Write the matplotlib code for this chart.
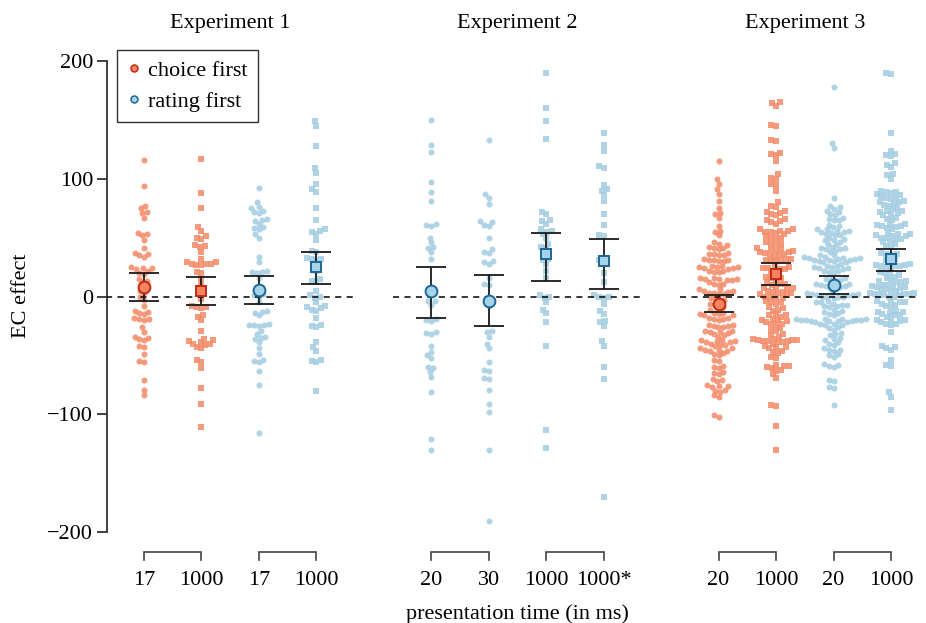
import numpy as np
import matplotlib
matplotlib.use('Agg')
import matplotlib.pyplot as plt
from matplotlib.lines import Line2D

plt.rcParams['font.family'] = ['Liberation Serif', 'DejaVu Serif']

# ---------------- data ----------------
experiments = ['Experiment 1', 'Experiment 2', 'Experiment 3']
tick_labels = ['17', '1000', '17', '1000', '20', '30', '1000', '1000*', '20', '1000', '20', '1000']
conditions = ['choice', 'choice', 'rating', 'rating', 'rating', 'rating', 'rating', 'rating',
              'choice', 'choice', 'rating', 'rating']
shapes = ['o', 's', 'o', 's', 'o', 'o', 's', 's', 'o', 's', 'o', 's']

e1_choice_17 = [116, 94, 77, 75, 72, 71, 67, 53, 52, 54, 48, 41, 37, 35, 34, 36, 24, 23, 25, 24, 22, 20, 19,
                15, 12, 13, 8, 5, 3, 0, -3, -8, -13, -12, -14, -15, -19, -18, -20, -19, -26, -30, -35, -34,
                -36, -37, -42, -43, -49, -55, -56, -71, -79, -84]
e1_choice_1000 = [117, 88, 75, 59, 56, 50, 49, 51, 43, 42, 44, 38, 32, 28, 27, 29, 28, 27, 29, 28, 20, 21, 15,
                  10, 2, -2, -8, -9, -10, -9, -17, -16, -20, -29, -37, -36, -38, -40, -41, -40, -39, -43, -44,
                  -54, -56, -61, -78, -91, -111]
e1_rating_17 = [92, 80, 75, 76, 72, 71, 73, 65, 66, 64, 62, 58, 57, 59, 53, 50, 34, 29, 21, 22, 20, 21, 16, 2,
                1, 0, -5, -13, -12, -14, -16, -24, -23, -25, -24, -24, -29, -32, -35, -34, -36, -39, -44, -49,
                -55, -54, -56, -63, -75, -116]
e1_rating_1000 = [149, 145, 128, 109, 105, 96, 91, 89, 75, 65, 56, 55, 57, 53, 48, 38, 39, 32, 31, 33, 32, 26,
                  22, 15, 12, 13, 5, 0, 1, -1, -5, -8, -10, -9, -11, -12, -18, -25, -24, -26, -39, -43, -46,
                  -55, -54, -56, -80]

e2_rating_20 = [150, 129, 123, 97, 89, 81, 62, 60, 61, 50, 46, 41, 42, 38, 32, 5, 2, -4, -4, -7, -20, -19, -21,
                -31, -30, -32, -42, -47, -50, -52, -60, -61, -64, -68, -81, -121, -130]
e2_rating_30 = [133, 87, 84, 79, 63, 64, 60, 61, 50, 40, 38, 37, 30, 29, 28, 16, 10, 11, -2, -8, -30, -29, -34,
                -40, -44, -56, -63, -62, -70, -69, -79, -91, -98, -130, -191]
e2_rating_1000 = [190, 160, 149, 134, 72, 70, 64, 65, 62, 56, 55, 57, 53, 50, 45, 42, 41, 36, 31, 32, 28, 22,
                  16, 0, 1, -1, -5, -11, -14, -22, -42, -113, -129]
e2_rating_1000s = [139, 129, 124, 111, 109, 95, 91, 90, 86, 81, 70, 61, 52, 51, 30, 31, 20, 12, 1, 0, -1, 0,
                   -6, -12, -15, -22, -21, -25, -38, -42, -60, -70, -170]

e3_choice_20 = [115, 100, 96, 91, 87, 81, 75, 71, 70, 67, 60, 55, 56, 52, 45, 44, 46, 41, 40, 42, 41, 36, 35,
                37, 36, 35, 31, 30, 32, 31, 30, 31, 25, 26, 24, 25, 25, 26, 24, 22, 21, 23, 22, 21, 15, 16, 14,
                15, 16, 15, 14, 11, 10, 12, 11, 5, 6, 4, 5, 6, 3, 2, 2, 3, -2, -1, -3, -6, -5, -7, -10, -9, -11,
                -15, -14, -16, -15, -14, -16, -19, -18, -20, -19, -18, -25, -24, -26, -25, -24, -26, -30, -29,
                -31, -30, -29, -33, -32, -34, -38, -37, -39, -38, -37, -39, -41, -40, -42, -41, -45, -44, -46,
                -45, -44, -46, -49, -48, -50, -55, -54, -60, -59, -61, -65, -64, -66, -71, -70, -72, -76, -75,
                -77, -76, -80, -79, -81, -85, -84, -102, -101]
e3_choice_1000 = [165, 164, 162, 146, 145, 133, 132, 121, 120, 122, 115, 104, 100, 101, 95, 96, 90, 80, 76, 77,
                  72, 71, 73, 69, 70, 65, 66, 64, 62, 63, 56, 57, 55, 56, 57, 55, 54, 53, 50, 49, 51, 50, 45,
                  44, 46, 45, 40, 41, 39, 40, 38, 37, 39, 38, 35, 34, 36, 35, 31, 30, 32, 31, 30, 32, 24, 23,
                  25, 24, 23, 25, 20, 21, 16, 15, 17, 16, 11, 10, 12, 11, 7, 6, 8, 7, 5, 4, 3, 4, 3, 2, 0, 1,
                  -1, 0, -1, -5, -4, -6, -5, -10, -11, -9, -12, -16, -15, -17, -16, -20, -19, -21, -20, -23,
                  -22, -24, -23, -28, -27, -29, -33, -32, -34, -37, -36, -38, -37, -36, -38, -37, -39, -40,
                  -38, -39, -43, -42, -44, -43, -47, -46, -48, -52, -51, -59, -58, -60, -59, -62, -61, -63,
                  -66, -69, -93, -92, -110, -130]
e3_rating_20 = [178, 130, 126, 84, 77, 76, 73, 72, 74, 69, 70, 66, 65, 67, 65, 60, 61, 59, 56, 55, 57, 56, 55,
                57, 53, 52, 54, 52, 49, 48, 50, 48, 45, 44, 46, 41, 40, 42, 41, 39, 38, 40, 34, 33, 35, 34, 33,
                35, 32, 31, 33, 32, 31, 30, 31, 29, 28, 30, 29, 25, 24, 26, 25, 24, 26, 22, 21, 23, 22, 21,
                17, 16, 14, 13, 15, 14, 10, 9, 11, 10, 9, 11, 7, 6, 8, 2, 3, 1, 2, 3, 1, 0, 0, -1, 0, 1, 0,
                -5, -4, -6, -5, -8, -7, -9, -8, -7, -12, -11, -13, -15, -14, -16, -20, -19, -21, -20, -19,
                -21, -20, -19, -21, -20, -19, -21, -23, -22, -24, -23, -22, -24, -27, -26, -28, -32, -31, -33,
                -36, -35, -37, -40, -39, -41, -45, -44, -46, -45, -50, -49, -51, -58, -57, -59, -60, -71,
                -72, -78, -77, -92]
e3_rating_1000 = [189, 190, 139, 124, 120, 121, 119, 112, 113, 110, 104, 103, 100, 89, 88, 90, 89, 87, 86, 84,
                  83, 85, 84, 80, 79, 81, 80, 77, 76, 78, 73, 72, 74, 73, 70, 69, 71, 66, 65, 67, 61, 60, 62,
                  61, 60, 58, 57, 59, 53, 52, 54, 53, 50, 49, 51, 50, 49, 51, 46, 45, 47, 43, 42, 36, 35, 37,
                  36, 31, 30, 32, 27, 26, 28, 27, 26, 25, 24, 26, 20, 19, 21, 17, 16, 18, 13, 12, 14, 13, 12,
                  9, 10, 8, 9, 10, 8, 6, 5, 7, 6, 5, 2, 3, 1, 2, 3, 1, 0, 2, 1, 0, -5, -4, -6, -5, -4, -8, -9,
                  -7, -13, -12, -14, -13, -16, -15, -17, -16, -20, -19, -21, -20, -23, -22, -24, -23, -30,
                  -42, -44, -43, -45, -54, -59, -58, -81, -85, -96]

columns = [e1_choice_17, e1_choice_1000, e1_rating_17, e1_rating_1000,
           e2_rating_20, e2_rating_30, e2_rating_1000, e2_rating_1000s,
           e3_choice_20, e3_choice_1000, e3_rating_20, e3_rating_1000]

means = [8.5, 4.5, 5.7, 25.5, 4.5, -3.4, 36, 30, -6.2, 19.3, 10.2, 32]
ci_high = [20, 16.5, 17.6, 38, 25, 18.7, 53.6, 49, 1.7, 28.4, 17.3, 40.5]
ci_low = [-4, -7, -6, 11, -18, -25, 13.6, 6.8, -13.3, 9.4, 2.3, 22]

# ---------------- styling ----------------
point_color = {'choice': '#F38A68', 'rating': '#A3CDE1'}
mean_face = {'choice': '#F5835F', 'rating': '#A5D4E8'}
mean_edge = {'choice': '#C22A14', 'rating': '#1C6797'}

positions = []
for g in range(3):
    positions += [g * 5 + k for k in range(4)]
positions = np.array(positions, dtype=float)

fig = plt.figure(figsize=(9.26, 6.23), dpi=100)
ax = fig.add_axes([107 / 926, 0.1271, 812.7 / 926, 0.7938])
ax.set_xlim(-0.644, 13.5)
ax.set_ylim(-210, 210)

# pixel scale
p0 = ax.transData.transform((0, 0))
p1 = ax.transData.transform((1, 1))
px_x = p1[0] - p0[0]
px_y = p1[1] - p0[1]


def swarm_offsets(vals, d):
    ys = np.asarray(vals, dtype=float) * px_y
    order = np.argsort(ys, kind='stable')
    xs = np.zeros(len(ys))
    pxs, pys = [], []
    for i in order:
        y = ys[i]
        if pxs:
            ax_ = np.array(pxs)
            ay_ = np.array(pys)
            m = np.abs(ay_ - y) < d
            nx, ny = ax_[m], ay_[m]
        else:
            nx, ny = np.array([]), np.array([])
        cands = [0.0]
        for a, b in zip(nx, ny):
            dx = np.sqrt(max(d * d - (b - y) ** 2, 0))
            cands += [a + dx, a - dx]
        cands = sorted(cands, key=lambda c: (abs(c), c))
        for c in cands:
            if np.all((nx - c) ** 2 + (ny - y) ** 2 >= d * d - 1e-6):
                xs[i] = c
                break
        pxs.append(xs[i])
        pys.append(y)
    return xs / px_x


for pos, vals, cond, mk in zip(positions, columns, conditions, shapes):
    off = swarm_offsets(vals, 5.0)
    s = 19 if mk == 'o' else 15
    ax.scatter(pos + off, vals, s=s, marker=mk, color=point_color[cond], alpha=0.85,
               linewidths=0, zorder=2)

# zero lines per experiment
for g in range(3):
    grp = positions[g * 4:(g + 1) * 4]
    ax.hlines(0, grp[0] - 0.67, grp[-1] + 0.67, colors='black', linestyles=(0, (4, 3.5)),
              linewidth=1.1, zorder=3)

# error bars and means
means_a = np.array(means)
ax.errorbar(positions, means_a, yerr=[means_a - np.array(ci_low), np.array(ci_high) - means_a],
            fmt='none', ecolor='#1a1a1a', elinewidth=1.3, capsize=11, capthick=1.3, zorder=4)
for pos, m, cond, mk in zip(positions, means, conditions, shapes):
    ax.plot([pos], [m], marker=mk, ms=8.5 if mk == 'o' else 7.8, mfc=mean_face[cond],
            mec=mean_edge[cond], mew=1.4, ls='none', zorder=5)

# axes styling
for sp in ['top', 'right', 'bottom']:
    ax.spines[sp].set_visible(False)
ax.spines['left'].set_bounds(-200, 200)
ax.spines['left'].set_linewidth(1.3)
ax.spines['left'].set_color('#333333')
ax.set_yticks([-200, -100, 0, 100, 200])
ax.tick_params(axis='y', length=7, width=1.3, color='#333333', labelsize=16, pad=3)
ax.set_xticks([])

# titles
for g, name in enumerate(experiments):
    grp = positions[g * 4:(g + 1) * 4]
    ax.text(grp.mean(), 232, name, ha='center', va='center', fontsize=16, clip_on=False)

# brackets and tick labels
for k in range(0, 12, 2):
    a, b = positions[k], positions[k + 1]
    ax.plot([a, a, b, b], [-223.4, -216.6, -216.6, -223.4], color='#444444', lw=1.2,
            clip_on=False, solid_joinstyle='miter')
for pos, lab in zip(positions, tick_labels):
    ax.text(pos, -241, lab, ha='center', va='center', fontsize=16, clip_on=False)

ax.text(positions[4:8].mean(), -269.5, 'presentation time (in ms)', ha='center', va='center',
        fontsize=16, clip_on=False)
fig.text(21 / 926, 1 - 296 / 623, 'EC effect', rotation=90, ha='center', va='center', fontsize=16)

handles = [Line2D([], [], marker='o', ls='none', ms=5, mfc=mean_face['choice'], mec=mean_edge['choice'],
                  mew=1.1, label='choice first'),
           Line2D([], [], marker='o', ls='none', ms=5, mfc=mean_face['rating'], mec=mean_edge['rating'],
                  mew=1.1, label='rating first')]
leg = fig.legend(handles=handles, loc='upper left', bbox_to_anchor=(117 / 926, 1 - 50 / 623),
                 frameon=True, fancybox=False, edgecolor='black', fontsize=16, handlelength=0.6,
                 handletextpad=0.35, borderpad=0.45, labelspacing=0.5, borderaxespad=0)
leg.get_frame().set_linewidth(1.0)

fig.savefig('out.png', dpi=100)
